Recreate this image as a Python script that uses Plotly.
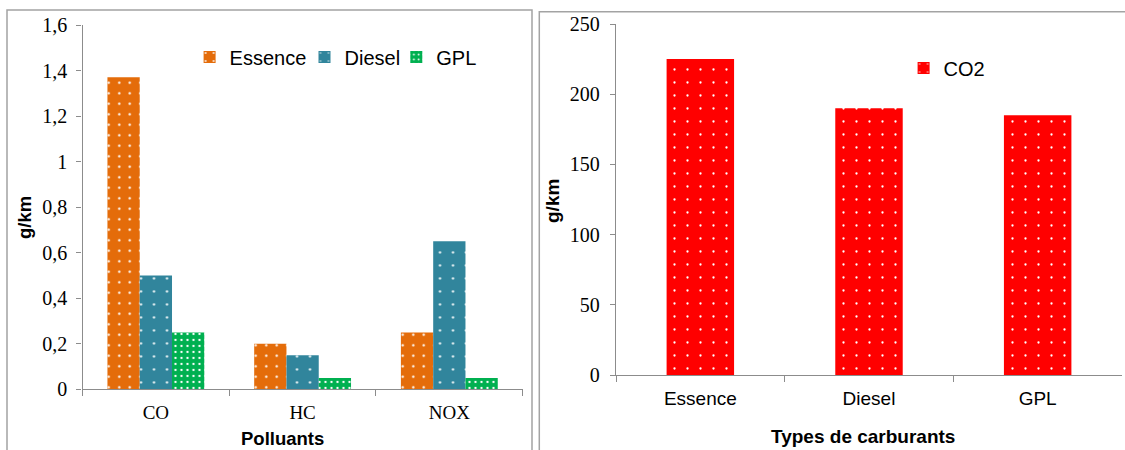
import math
import plotly.graph_objects as go

# ---- data -------------------------------------------------------------
polluants = ["CO", "HC", "NOX"]
essence = [1.37, 0.20, 0.25]
diesel = [0.50, 0.15, 0.65]
gpl = [0.25, 0.05, 0.05]

carburants = ["Essence", "Diesel", "GPL"]
co2 = [225, 190, 185]

y1_ticks = [0, 0.2, 0.4, 0.6, 0.8, 1.0, 1.2, 1.4, 1.6]
y2_ticks = [0, 50, 100, 150, 200, 250]

# ---- page geometry (pixels -> paper fractions) -------------------------
W, H = 1125, 450


def fx(px):
    return px / W


def fy(py):
    return 1 - py / H


SERIF = "Liberation Serif, Times New Roman, serif"
SANS = "Liberation Sans, Arial, sans-serif"
AXIS_GREY = "#8c8c8c"
FRAME_GREY = "#a3a3a3"


def dots(color, size, radius=1.15):
    # white dot pattern on a coloured background
    return dict(shape=".", bgcolor=color, fgcolor="white", fgopacity=1,
                size=size, solidity=math.pi * radius ** 2 / size ** 2)


fig = go.Figure()

# one legend box per series so each entry sits at its own spot
series = [
    ("Essence", essence, "#E46C0A", 10.5, "legend", 189.6),
    ("Diesel", diesel, "#31859C", 13, "legend2", 304.5),
    ("GPL", gpl, "#00B050", 6, "legend3", 396.3),
]
for name, vals, color, psize, leg, _ in series:
    fig.add_trace(go.Bar(
        name=name, x=polluants, y=vals, xaxis="x", yaxis="y",
        marker=dict(color=color, line=dict(width=0), pattern=dots(color, psize)),
        legend=leg,
    ))

fig.add_trace(go.Bar(
    name="CO2", x=carburants, y=co2, xaxis="x2", yaxis="y2", width=0.4,
    marker=dict(color="#FF0000", line=dict(width=0), pattern=dots("#FF0000", 13)),
    legend="legend4",
))

axis_common = dict(
    showline=True, linecolor=AXIS_GREY, linewidth=1.3,
    ticks="outside", tickcolor=AXIS_GREY, tickwidth=1.3,
    showgrid=False, zeroline=False, automargin=False, fixedrange=True,
)


def legend_box(x_px, y_px):
    return dict(
        orientation="h", x=fx(x_px), y=fy(y_px), xanchor="left", yanchor="middle",
        font=dict(family=SANS, size=20, color="black"), bgcolor="rgba(0,0,0,0)",
        itemwidth=30,
    )


fig.update_layout(
    width=W, height=H,
    margin=dict(l=0, r=0, t=0, b=0),
    paper_bgcolor="white", plot_bgcolor="white",
    separators=", ",
    barmode="group", bargap=0.34, bargroupgap=0,
    font=dict(family=SERIF, size=19, color="black"),
    xaxis=dict(
        axis_common, domain=[fx(82.5), fx(522.7)], anchor="y",
        type="category", tickson="boundaries", ticklen=6, ticklabelstandoff=6,
        tickfont=dict(family=SERIF, size=19),
    ),
    yaxis=dict(
        axis_common, domain=[fy(389.3), fy(25)], anchor="x",
        range=[0, 1.6], tickvals=y1_ticks, ticklen=5, ticklabelstandoff=5,
        tickfont=dict(family=SERIF, size=20),
    ),
    xaxis2=dict(
        axis_common, domain=[fx(616), fx(1122)], anchor="y2",
        type="category", tickson="boundaries", ticklen=6, ticklabelstandoff=6,
        tickfont=dict(family=SANS, size=19),
    ),
    yaxis2=dict(
        axis_common, domain=[fy(375), fy(24)], anchor="x2",
        range=[0, 250], tickvals=y2_ticks, ticklen=5, ticklabelstandoff=6,
        tickfont=dict(family=SERIF, size=20),
    ),
    legend=legend_box(series[0][5], 57),
    legend2=legend_box(series[1][5], 57),
    legend3=legend_box(series[2][5], 57),
    legend4=legend_box(903.6, 68),
    showlegend=True,
)

# chart-area frames
fig.add_shape(type="rect", xref="paper", yref="paper",
              x0=fx(7), x1=fx(532), y0=fy(470), y1=fy(10),
              line=dict(color=FRAME_GREY, width=1.5), fillcolor="rgba(0,0,0,0)",
              layer="below")
fig.add_shape(type="rect", xref="paper", yref="paper",
              x0=fx(539.3), x1=fx(1140), y0=fy(470), y1=fy(11.7),
              line=dict(color=FRAME_GREY, width=1.5), fillcolor="rgba(0,0,0,0)",
              layer="below")

# axis titles
annos = [
    dict(text="<b>Polluants</b>", x=fx(282), y=fy(438), size=18.5, angle=0),
    dict(text="<b>Types de carburants</b>", x=fx(863.3), y=fy(436.7), size=19, angle=0),
    dict(text="<b>g/km</b>", x=fx(24), y=fy(218), size=18.5, angle=-90),
    dict(text="<b>g/km</b>", x=fx(552), y=fy(201), size=19, angle=-90),
]
for a in annos:
    fig.add_annotation(
        text=a["text"], x=a["x"], y=a["y"], xref="paper", yref="paper",
        xanchor="center", yanchor="middle", showarrow=False, textangle=a["angle"],
        font=dict(family=SANS, color="black", size=a["size"]),
    )

fig.write_html("out.html")
